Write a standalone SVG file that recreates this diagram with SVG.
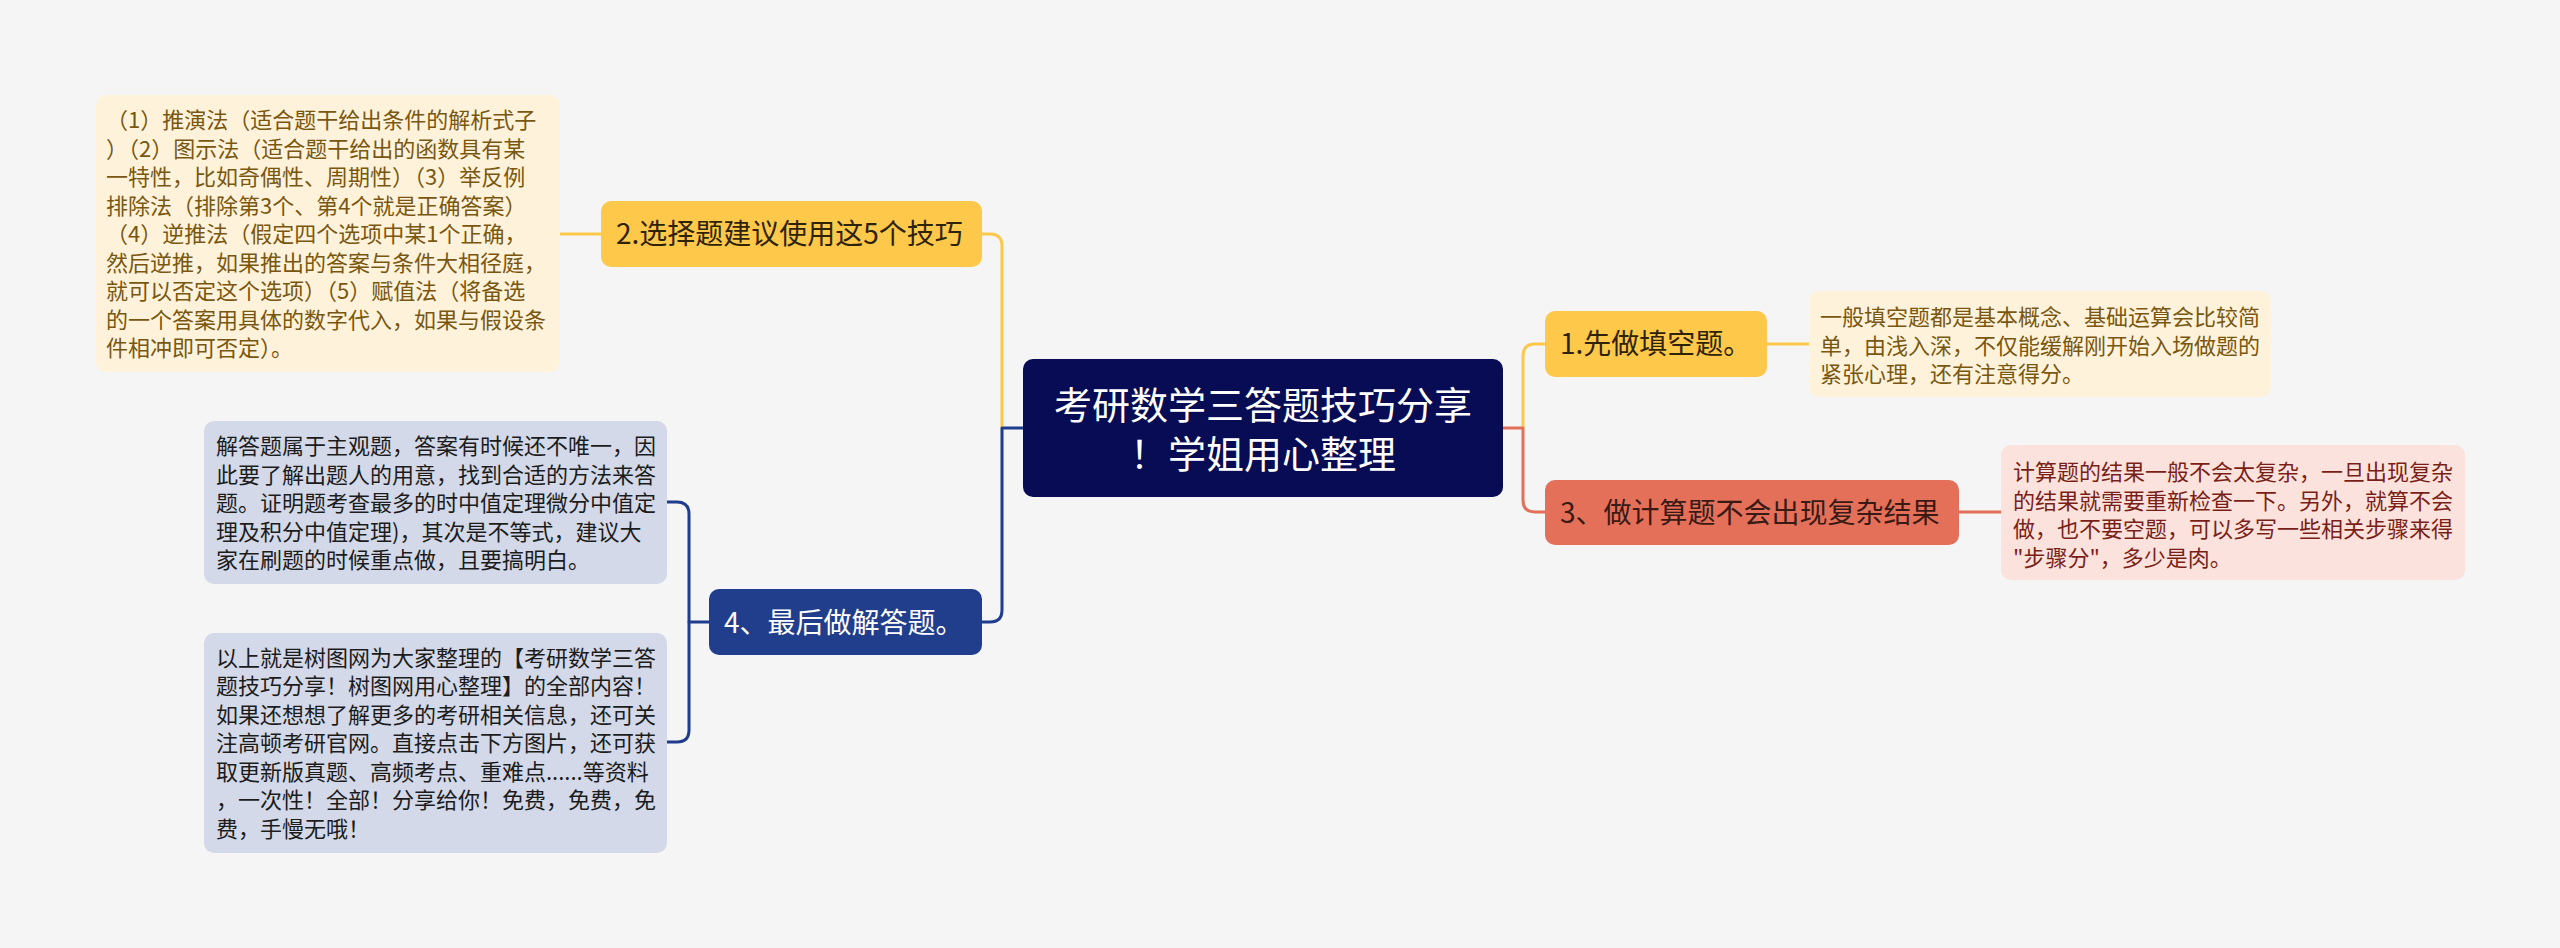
<svg xmlns="http://www.w3.org/2000/svg" width="2560" height="948" viewBox="0 0 2560 948">
<style>
text{font-family:"Noto Sans CJK SC","Noto Sans",sans-serif}
.c{fill:none;stroke-width:3;stroke-linecap:round;stroke-linejoin:round}
.cy{stroke:#fcc84b}.cr{stroke:#e26f58}.cb{stroke:#1f3d8c}
.leaf{font-size:22px}
.node{font-size:28px}
</style>
<rect width="2560" height="948" fill="#f5f5f5"/>
<g id="connectors">
<path class="c cy" d="M1002,428 V246 Q1002,234 990,234 H982"/>
<path class="c cb" d="M1023,428 H1002 V610 Q1002,622 990,622 H982"/>
<path class="c cy" d="M1523,428 V356 Q1523,344 1535,344 H1545"/>
<path class="c cr" d="M1503,428 H1523 V500 Q1523,512 1535,512 H1545"/>
<path class="c cy" d="M601,234 H560"/>
<path class="c cy" d="M1767,344 H1809"/>
<path class="c cr" d="M1958,512 H2001"/>
<path class="c cb" d="M709,622 H689 V514 Q689,502 677,502 H667"/>
<path class="c cb" d="M689,622 V730 Q689,742 677,742 H667"/>
</g>
<g id="center">
<rect x="1023" y="359" width="480" height="138" rx="10" fill="#070c55"/>
<text font-size="38" fill="#ffffff" text-anchor="middle"><tspan x="1263" y="419">考研数学三答题技巧分享</tspan><tspan x="1263" y="468">！学姐用心整理</tspan></text>
</g>
<g id="node1">
<rect x="1545" y="311" width="222" height="66" rx="10" fill="#fec84b"/>
<text class="node" x="1560" y="354" fill="#2e2306">1.先做填空题。</text>
</g>
<g id="node2">
<rect x="601" y="201" width="381" height="66" rx="10" fill="#fec84b"/>
<text class="node" x="616" y="244" fill="#2e2306">2.选择题建议使用这5个技巧</text>
</g>
<g id="node3">
<rect x="1545" y="480" width="414" height="65" rx="10" fill="#e4705a"/>
<text class="node" x="1560" y="523" fill="#3a1a14">3、做计算题不会出现复杂结果</text>
</g>
<g id="node4">
<rect x="709" y="589" width="273" height="66" rx="10" fill="#203e8c"/>
<text class="node" x="724" y="633" fill="#ffffff">4、最后做解答题。</text>
</g>
<g id="leaf1">
<rect x="1809" y="291" width="462" height="106" rx="10" fill="#fef3da"/>
<text class="leaf" fill="#7a5710">
<tspan x="1820" y="325">一般填空题都是基本概念、基础运算会比较简</tspan>
<tspan x="1820" y="353.5">单，由浅入深，不仅能缓解刚开始入场做题的</tspan>
<tspan x="1820" y="382">紧张心理，还有注意得分。</tspan>
</text>
</g>
<g id="leaf2">
<rect x="96" y="95" width="464" height="277" rx="10" fill="#fef3da"/>
<text class="leaf" fill="#7a5710">
<tspan x="106" y="128">（1）推演法（适合题干给出条件的解析式子</tspan>
<tspan x="106" y="156.5">）（2）图示法（适合题干给出的函数具有某</tspan>
<tspan x="106" y="185">一特性，比如奇偶性、周期性）（3）举反例</tspan>
<tspan x="106" y="213.5">排除法（排除第3个、第4个就是正确答案）</tspan>
<tspan x="106" y="242">（4）逆推法（假定四个选项中某1个正确，</tspan>
<tspan x="106" y="270.5">然后逆推，如果推出的答案与条件大相径庭，</tspan>
<tspan x="106" y="299">就可以否定这个选项）（5）赋值法（将备选</tspan>
<tspan x="106" y="327.5">的一个答案用具体的数字代入，如果与假设条</tspan>
<tspan x="106" y="356">件相冲即可否定）。</tspan>
</text>
</g>
<g id="leaf3">
<rect x="2001" y="445" width="464" height="135" rx="10" fill="#fbe2dd"/>
<text class="leaf" fill="#7a1f17">
<tspan x="2013" y="480">计算题的结果一般不会太复杂，一旦出现复杂</tspan>
<tspan x="2013" y="508.5">的结果就需要重新检查一下。另外，就算不会</tspan>
<tspan x="2013" y="537">做，也不要空题，可以多写一些相关步骤来得</tspan>
<tspan x="2013" y="565.5">"步骤分"，多少是肉。</tspan>
</text>
</g>
<g id="leaf4a">
<rect x="204" y="421" width="463" height="163" rx="10" fill="#d3d9e8"/>
<text class="leaf" fill="#1c1c1c">
<tspan x="216" y="454">解答题属于主观题，答案有时候还不唯一，因</tspan>
<tspan x="216" y="482.5">此要了解出题人的用意，找到合适的方法来答</tspan>
<tspan x="216" y="511">题。证明题考查最多的时中值定理微分中值定</tspan>
<tspan x="216" y="539.5">理及积分中值定理)，其次是不等式，建议大</tspan>
<tspan x="216" y="568">家在刷题的时候重点做，且要搞明白。</tspan>
</text>
</g>
<g id="leaf4b">
<rect x="204" y="633" width="463" height="220" rx="10" fill="#d3d9e8"/>
<text class="leaf" fill="#1c1c1c">
<tspan x="216" y="665.5">以上就是树图网为大家整理的【考研数学三答</tspan>
<tspan x="216" y="694">题技巧分享！树图网用心整理】的全部内容！</tspan>
<tspan x="216" y="722.5">如果还想想了解更多的考研相关信息，还可关</tspan>
<tspan x="216" y="751">注高顿考研官网。直接点击下方图片，还可获</tspan>
<tspan x="216" y="779.5">取更新版真题、高频考点、重难点......等资料</tspan>
<tspan x="216" y="808">，一次性！全部！分享给你！免费，免费，免</tspan>
<tspan x="216" y="836.5">费，手慢无哦！</tspan>
</text>
</g>
</svg>
